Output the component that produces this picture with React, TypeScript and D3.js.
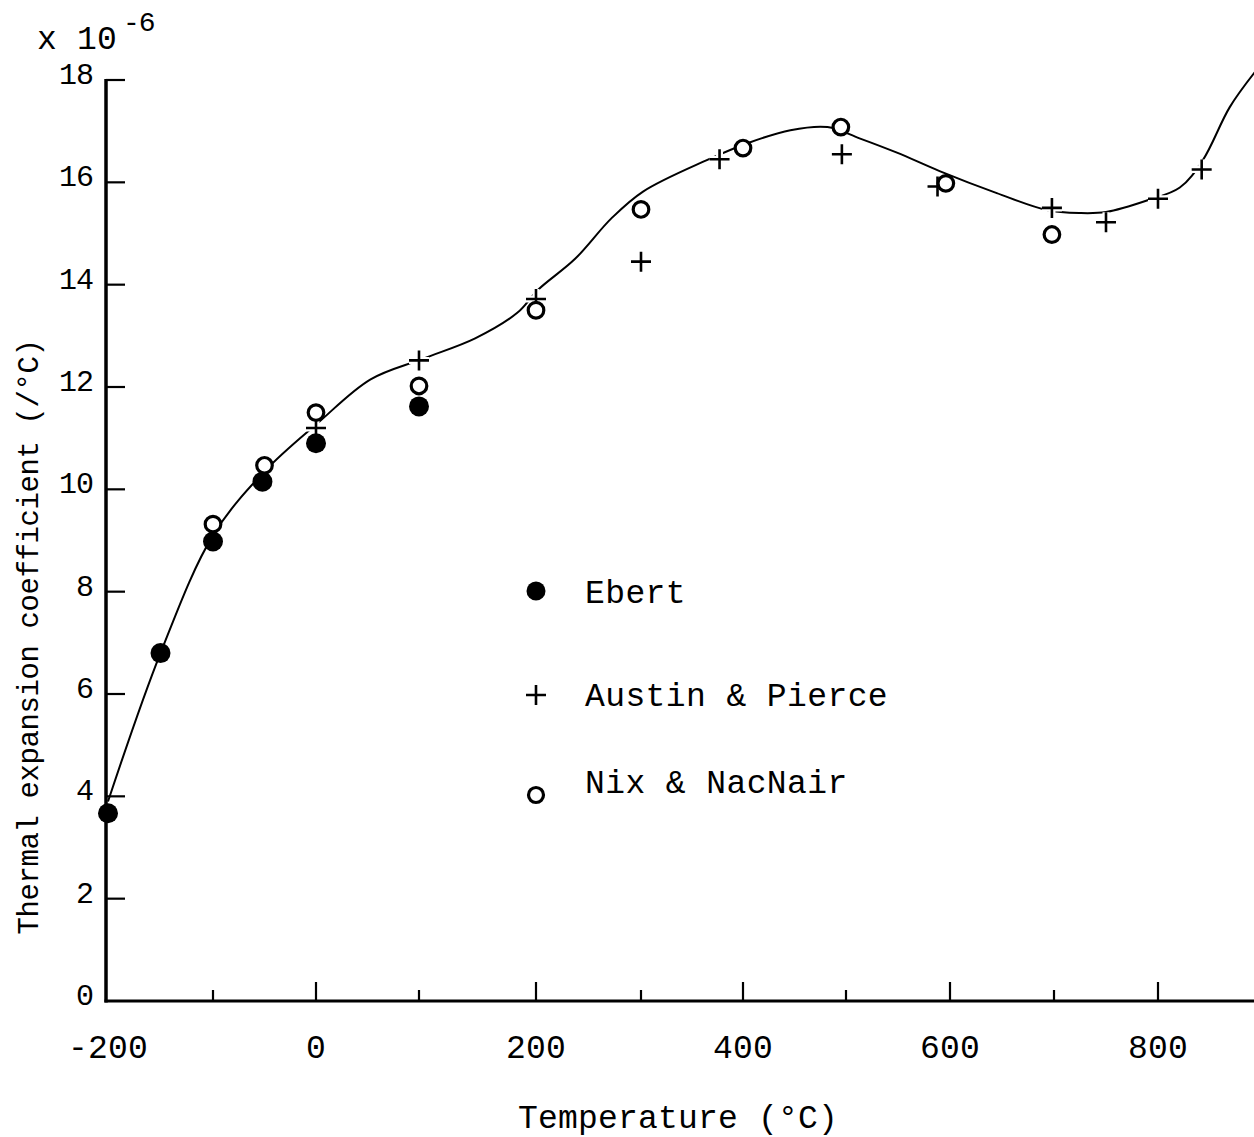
import React from "react";
import * as d3 from "d3";

// Temperature (°C) and thermal expansion coefficient (x 1e-6 /°C)
const ebertT = [-200, -150, -100, -52, 0, 100];
const ebertA = [3.67, 6.8, 8.98, 10.15, 10.9, 11.62];

const austinT = [0, 100, 200, 300, 377, 496, 588, 698, 750, 800, 842];
const austinA = [11.2, 12.52, 13.72, 14.45, 16.45, 16.55, 15.92, 15.5, 15.22, 15.68, 16.25];

const nixT = [-100, -50, 0, 100, 200, 300, 400, 495, 596, 698];
const nixA = [9.32, 10.47, 11.5, 12.02, 13.5, 15.47, 16.67, 17.08, 15.98, 14.98];

// Hand-drawn fitted curve, sampled from the figure
const curveT = [-200, -150, -100, -49, 2, 53, 103, 148, 184, 202, 237, 272, 302, 364, 405, 446, 482, 513, 549, 590, 645, 693, 725, 750, 790, 821, 843, 869, 893];
const curveA = [3.9, 6.8, 9.1, 10.37, 11.3, 12.15, 12.55, 12.95, 13.45, 13.9, 14.5, 15.3, 15.82, 16.43, 16.77, 17.02, 17.08, 16.86, 16.58, 16.22, 15.79, 15.46, 15.4, 15.42, 15.65, 15.9, 16.43, 17.47, 18.15];

const xMajorTicks = [-200, 0, 200, 400, 600, 800];
const xMinorTicks = [-100, 100, 300, 500, 700];
const yTicks = [0, 2, 4, 6, 8, 10, 12, 14, 16, 18];

// printed tick positions on the (slightly irregular) scanned axis
const xScaleDomain = [-200, -100, 0, 100, 200, 300, 400, 500, 600, 700, 800];
const xScaleRange = [108, 213, 316, 419, 536, 641, 743, 846, 950, 1054, 1158];

const legendItems = [
  { name: "Ebert", kind: "filled" },
  { name: "Austin & Pierce", kind: "cross" },
  { name: "Nix & NacNair", kind: "open" },
];

const FONT = "'Courier New', 'Liberation Mono', 'DejaVu Sans Mono', monospace";

const W = 1254;
const H = 1137;

export default function App() {
  const x = d3.scaleLinear().domain(xScaleDomain).range(xScaleRange);
  const y = d3.scaleLinear().domain([0, 18]).range([1001, 80]);
  const axisX = 106;
  const axisY = y(0);

  const curvePts = curveT.map((t, i) => [t, curveA[i]] as [number, number]);
  const line = d3
    .line<[number, number]>()
    .x((d) => x(d[0]))
    .y((d) => y(d[1]))
    .curve(d3.curveCatmullRom.alpha(0.5));

  const crossPath = (cx: number, cy: number, s: number) =>
    `M${cx - s},${cy}H${cx + s}M${cx},${cy - s}V${cy + s}`;

  const legendX = 536;
  const legendTextX = 585;
  const legendMarkerY = [591, 695, 795];
  const legendBaseY = [603, 706, 793];

  return (
    <svg
      width={W}
      height={H}
      style={{ position: "absolute", left: 0, top: 0, display: "block", background: "#fff" }}
    >
      <rect x={0} y={0} width={W} height={H} fill="#fff" />
      {/* axes */}
      <line x1={axisX} x2={axisX} y1={y(18) - 1} y2={axisY + 1.5} stroke="#000" strokeWidth={3.5} />
      <line x1={axisX - 1.5} x2={W} y1={axisY} y2={axisY} stroke="#000" strokeWidth={3} />
      {yTicks.map((v) => (
        <g key={"yt" + v}>
          {v > 0 && (
            <line x1={axisX} x2={axisX + 19} y1={y(v)} y2={y(v)} stroke="#000" strokeWidth={2.2} />
          )}
          <text
            x={93}
            y={y(v) + 4}
            textAnchor="end"
            fontFamily={FONT}
            fontSize={30}
            letterSpacing={-1}
            fill="#000"
          >
            {v}
          </text>
        </g>
      ))}
      {xMajorTicks.map((v) => (
        <g key={"xt" + v}>
          {v > -200 && (
            <line x1={x(v)} x2={x(v)} y1={axisY} y2={axisY - 19} stroke="#000" strokeWidth={2.2} />
          )}
          <text
            x={x(v)}
            y={1058}
            textAnchor="middle"
            fontFamily={FONT}
            fontSize={33}
            letterSpacing={0.2}
            fill="#000"
          >
            {v}
          </text>
        </g>
      ))}
      {xMinorTicks.map((v) => (
        <line key={"xm" + v} x1={x(v)} x2={x(v)} y1={axisY} y2={axisY - 11} stroke="#000" strokeWidth={2.2} />
      ))}

      {/* axis titles */}
      <text x={37} y={49} fontFamily={FONT} fontSize={33} letterSpacing={0.2} fill="#000">
        x 10
      </text>
      <text x={123} y={31} fontFamily={FONT} fontSize={28} letterSpacing={-1} fill="#000">
        -6
      </text>
      <text
        x={678}
        y={1128}
        textAnchor="middle"
        fontFamily={FONT}
        fontSize={33}
        letterSpacing={0.2}
        fill="#000"
      >
        Temperature (°C)
      </text>
      <text
        transform={`translate(38,${637}) rotate(-90)`}
        textAnchor="middle"
        fontFamily={FONT}
        fontSize={29}
        letterSpacing={-0.4}
        fill="#000"
      >
        Thermal expansion coefficient (/°C)
      </text>

      {/* fitted curve */}
      <path d={line(curvePts) || ""} fill="none" stroke="#000" strokeWidth={2} />

      {/* Austin & Pierce crosses */}
      {austinT.map((t, i) => (
        <g key={"a" + i}>
          <path d={crossPath(x(t), y(austinA[i]), 10)} stroke="#fff" strokeWidth={7} fill="none" />
          <path d={crossPath(x(t), y(austinA[i]), 10)} stroke="#000" strokeWidth={2.6} fill="none" />
        </g>
      ))}
      {/* Ebert filled */}
      {ebertT.map((t, i) => (
        <circle key={"e" + i} cx={x(t)} cy={y(ebertA[i])} r={10} fill="#000" />
      ))}
      {/* Nix open */}
      {nixT.map((t, i) => (
        <circle
          key={"n" + i}
          cx={x(t)}
          cy={y(nixA[i])}
          r={7.8}
          fill="#fff"
          stroke="#000"
          strokeWidth={3.2}
        />
      ))}

      {/* legend */}
      {legendItems.map((it, i) => (
        <g key={"l" + i}>
          {it.kind === "filled" && <circle cx={legendX} cy={legendMarkerY[i]} r={9.5} fill="#000" />}
          {it.kind === "cross" && (
            <path d={crossPath(legendX, legendMarkerY[i], 10)} stroke="#000" strokeWidth={2.6} fill="none" />
          )}
          {it.kind === "open" && (
            <circle cx={legendX} cy={legendMarkerY[i]} r={7.5} fill="#fff" stroke="#000" strokeWidth={3.2} />
          )}
          <text
            x={legendTextX}
            y={legendBaseY[i]}
            fontFamily={FONT}
            fontSize={33}
            letterSpacing={0.4}
            fill="#000"
          >
            {it.name}
          </text>
        </g>
      ))}
    </svg>
  );
}
